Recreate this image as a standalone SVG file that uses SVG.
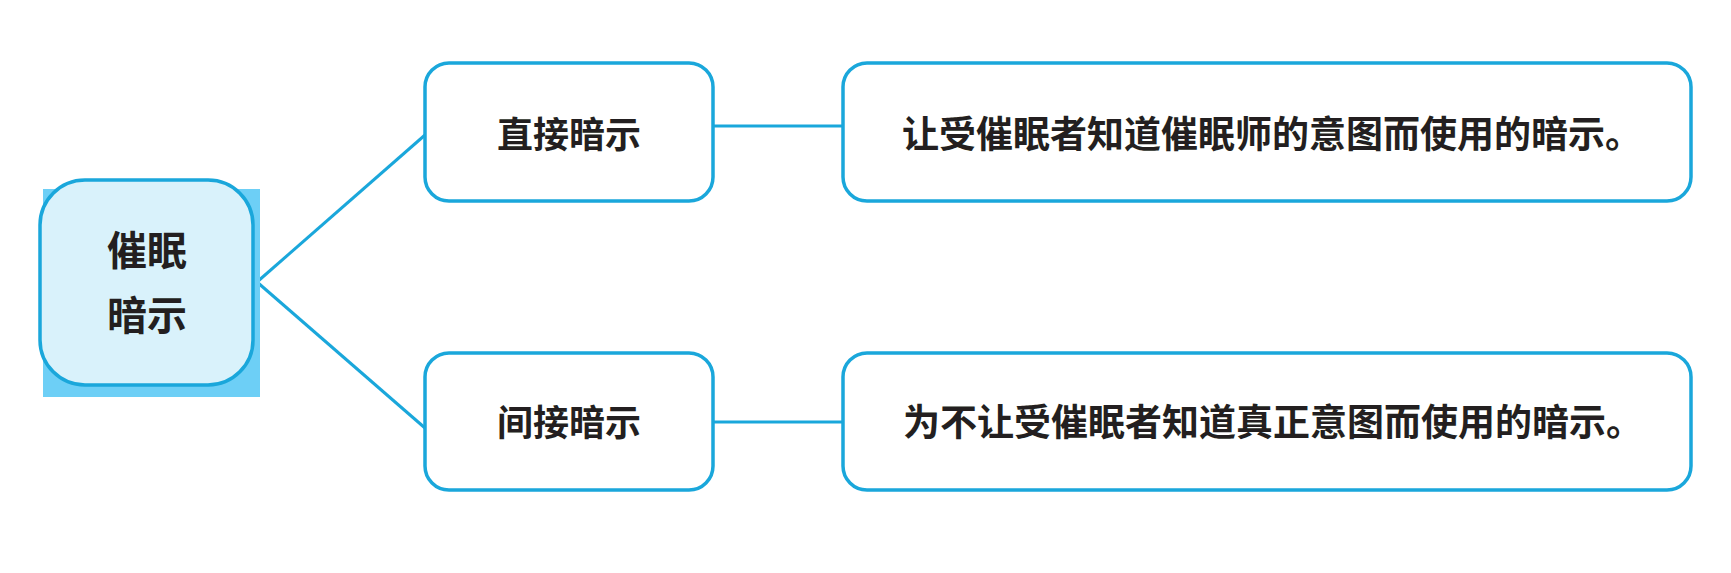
<svg xmlns="http://www.w3.org/2000/svg" width="1731" height="573" viewBox="0 0 1731 573">
<style>
.box{fill:#ffffff;stroke:#1aa7db;stroke-width:3.5}
.root{fill:#d9f2fb;stroke:#1aa7db;stroke-width:3.5}
.shadow{fill:#6dcff6}
.conn{stroke:#1aa7db;stroke-width:3;fill:none}
.t{font-family:"Noto Sans CJK SC","Noto Sans CJK JP",sans-serif;fill:#231f20;text-anchor:middle}
.rt{font-size:40px;font-weight:bold}
.nt{font-size:36px;font-weight:bold}
.dt{font-size:37px;font-weight:bold}
</style>
<rect width="1731" height="573" fill="#ffffff"/>
<g id="connectors">
<line class="conn" x1="257" y1="282" x2="425" y2="135"/>
<line class="conn" x1="257" y1="282" x2="425" y2="428"/>
<line class="conn" x1="713" y1="126" x2="843" y2="126"/>
<line class="conn" x1="713" y1="422" x2="843" y2="422"/>
</g>
<g id="root">
<rect class="shadow" x="43" y="189" width="217" height="208"/>
<rect class="root" x="40" y="180" width="213" height="205" rx="45" ry="45"/>
<text class="t rt" x="147" y="265">催眠</text>
<text class="t rt" x="147" y="330">暗示</text>
</g>
<g id="direct">
<rect class="box" x="425" y="63" width="288" height="138" rx="24" ry="24"/>
<text class="t nt" x="569" y="148">直接暗示</text>
</g>
<g id="indirect">
<rect class="box" x="425" y="353" width="288" height="137" rx="24" ry="24"/>
<text class="t nt" x="569" y="436">间接暗示</text>
</g>
<g id="direct-desc">
<rect class="box" x="843" y="63" width="848" height="138" rx="24" ry="24"/>
<text class="t dt" x="1272" y="148">让受催眠者知道催眠师的意图而使用的暗示。</text>
</g>
<g id="indirect-desc">
<rect class="box" x="843" y="353" width="848" height="137" rx="24" ry="24"/>
<text class="t dt" x="1273" y="436">为不让受催眠者知道真正意图而使用的暗示。</text>
</g>
</svg>
